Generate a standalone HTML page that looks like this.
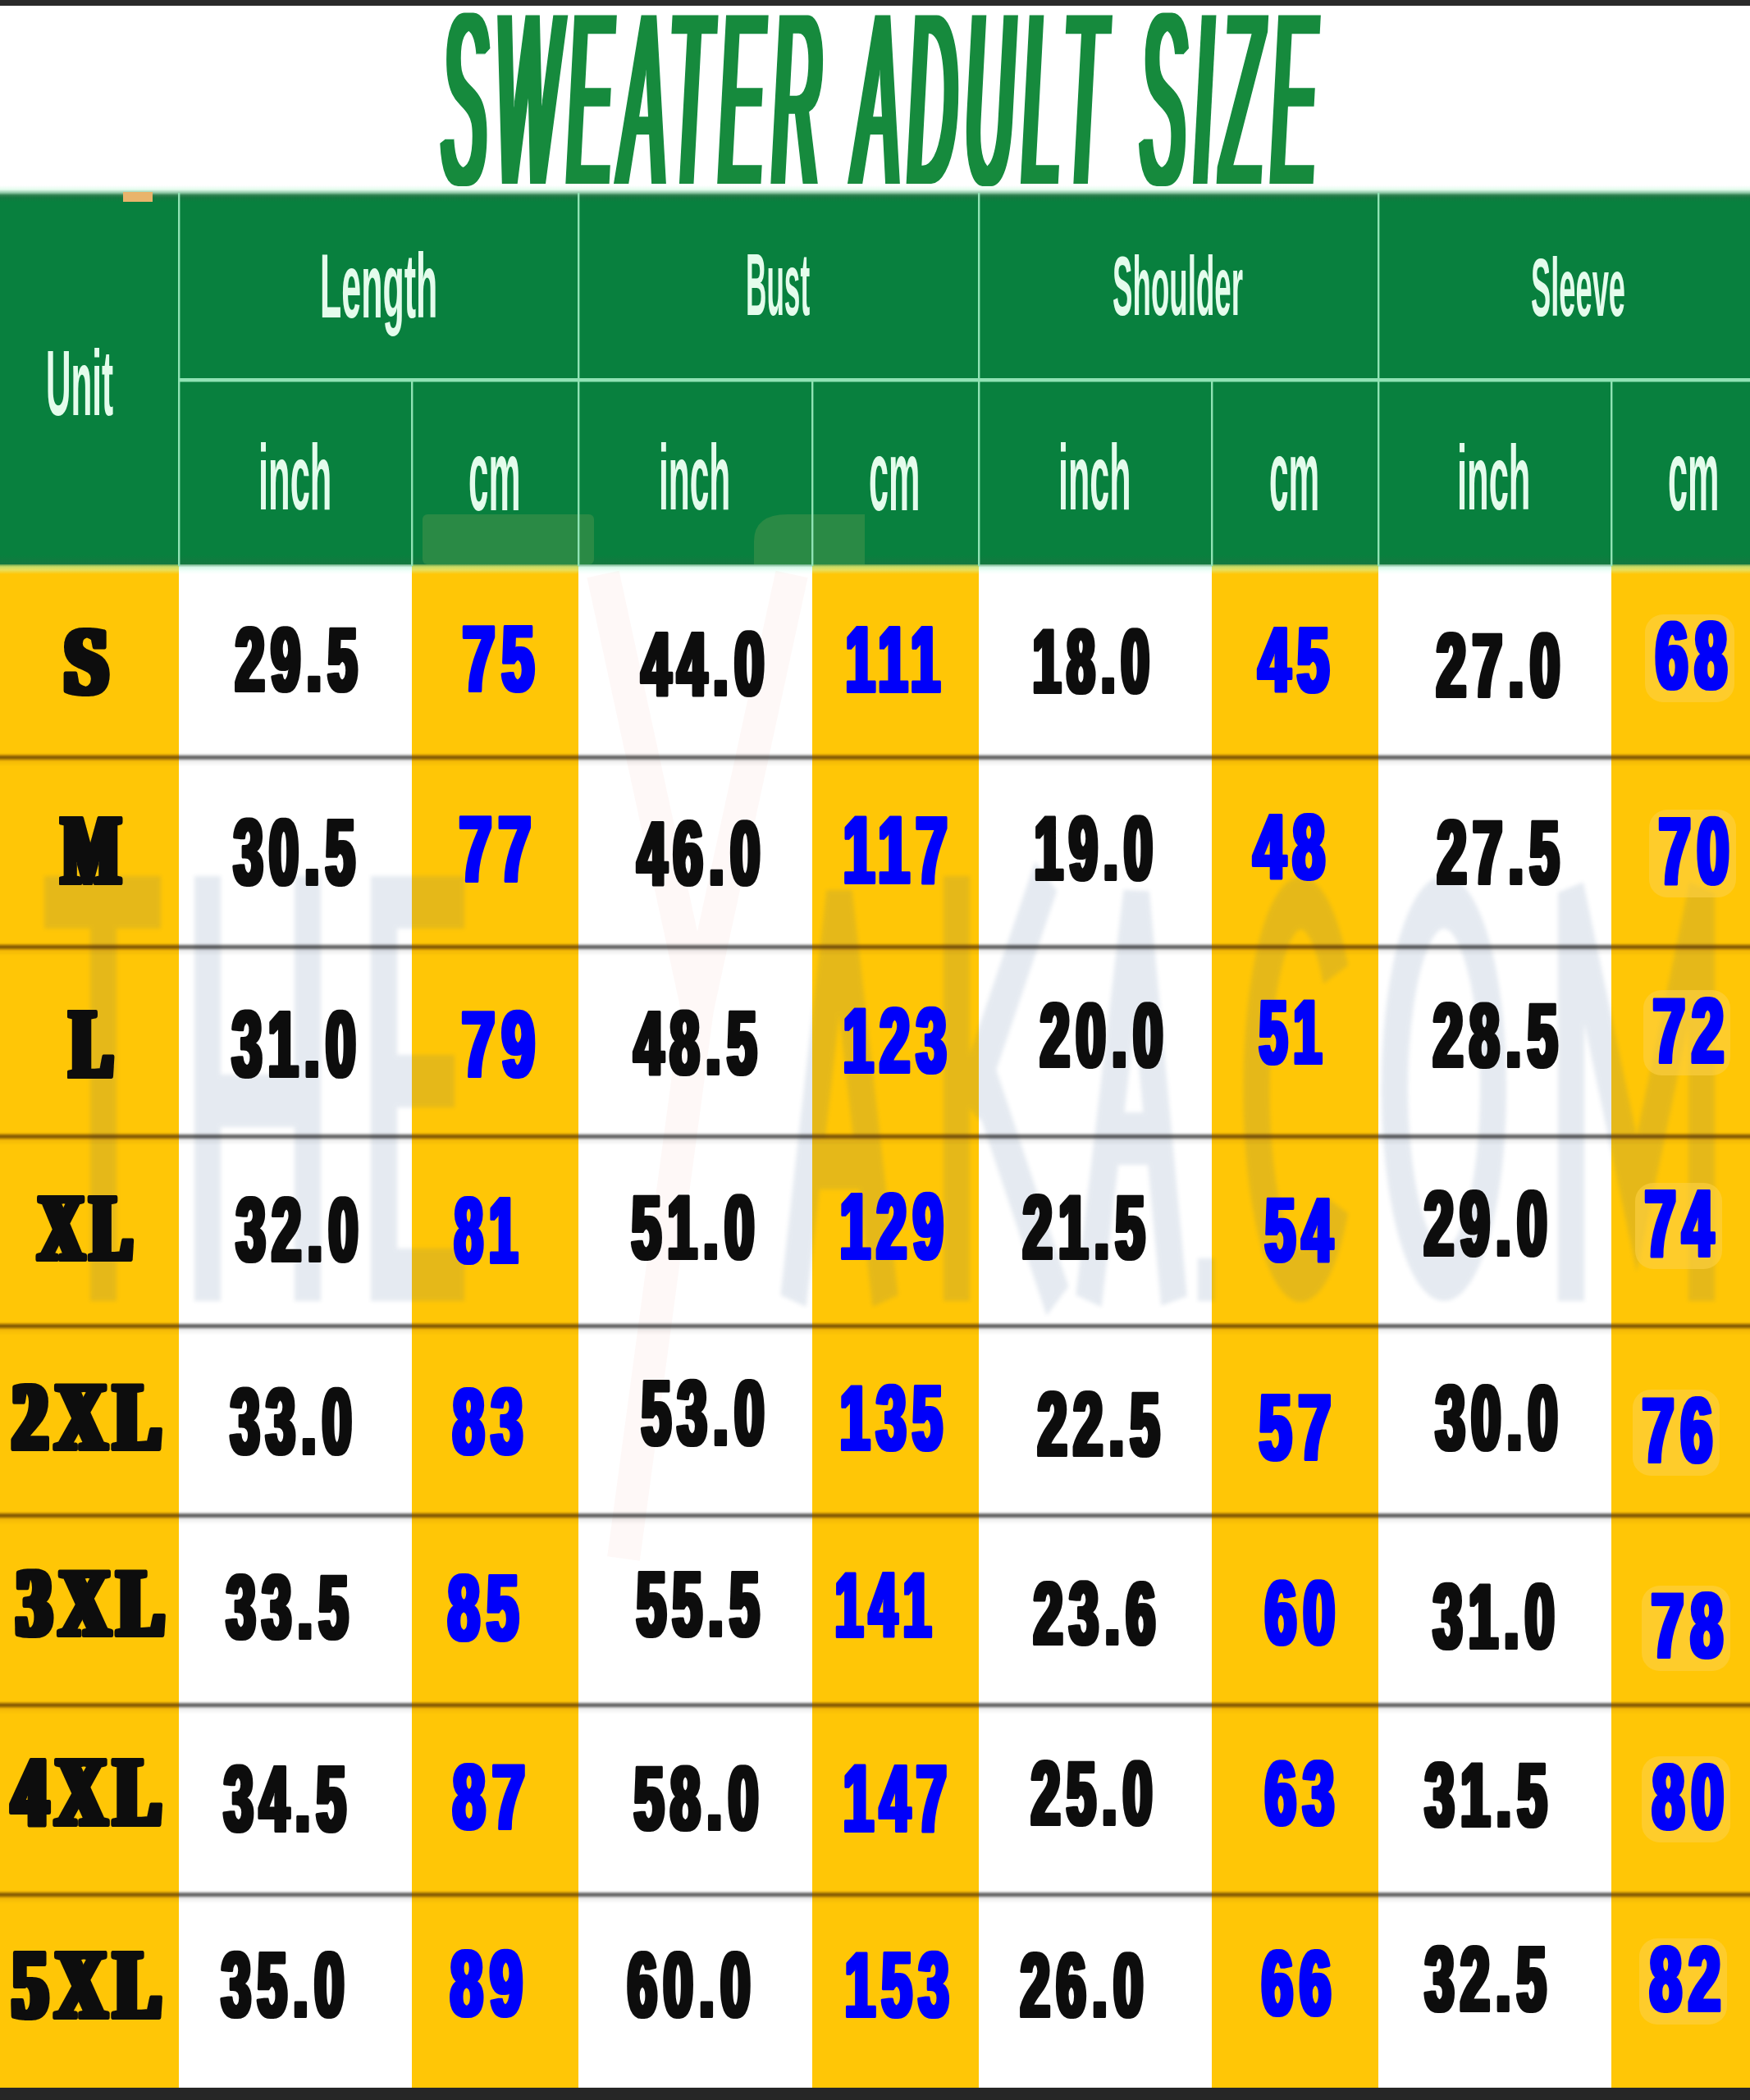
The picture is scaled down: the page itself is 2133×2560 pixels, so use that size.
<!DOCTYPE html><html><head><meta charset="utf-8"><title>Sweater Adult Size</title><style>html,body{margin:0;padding:0;background:#fff;overflow:hidden}svg{display:block}</style></head><body>
<svg width="2133" height="2560" viewBox="0 0 2133 2560">
<defs><filter id="dxt" x="-2%" y="-5%" width="104%" height="110%"><feMorphology operator="dilate" radius="5 0"/></filter><filter id="dxn" x="-5%" y="-5%" width="110%" height="110%"><feMorphology operator="dilate" radius="1.8 0"/></filter><filter id="dxs" x="-5%" y="-5%" width="110%" height="110%"><feMorphology operator="dilate" radius="3.5 0"/></filter></defs>
<defs><linearGradient id="gy" x1="0" y1="0" x2="0" y2="1"><stop offset="0" stop-color="#3f8a45"/><stop offset="0.3" stop-color="#c9dc66"/><stop offset="0.6" stop-color="#e9df5a"/><stop offset="1" stop-color="#ffc606"/></linearGradient><linearGradient id="gw" x1="0" y1="0" x2="0" y2="1"><stop offset="0" stop-color="#4f9a6a"/><stop offset="0.35" stop-color="#d8f8e8"/><stop offset="0.7" stop-color="#f2fffa"/><stop offset="1" stop-color="#ffffff"/></linearGradient><linearGradient id="gd" x1="0" y1="0" x2="0" y2="1"><stop offset="0" stop-color="#08803e"/><stop offset="0.975" stop-color="#08803e"/><stop offset="1" stop-color="#157840"/></linearGradient></defs>
<rect x="0" y="0" width="2133" height="2560" fill="#ffffff"/>
<rect x="0" y="0" width="2133" height="7" fill="#2a2a2a"/>
<rect x="0" y="689" width="218" height="1856" fill="#ffc606"/>
<rect x="0" y="687" width="218" height="13" fill="url(#gy)"/>
<rect x="218" y="689" width="284" height="1856" fill="#ffffff"/>
<rect x="218" y="687" width="284" height="13" fill="url(#gw)"/>
<rect x="502" y="689" width="203" height="1856" fill="#ffc606"/>
<rect x="502" y="687" width="203" height="13" fill="url(#gy)"/>
<rect x="705" y="689" width="285" height="1856" fill="#ffffff"/>
<rect x="705" y="687" width="285" height="13" fill="url(#gw)"/>
<rect x="990" y="689" width="203" height="1856" fill="#ffc606"/>
<rect x="990" y="687" width="203" height="13" fill="url(#gy)"/>
<rect x="1193" y="689" width="284" height="1856" fill="#ffffff"/>
<rect x="1193" y="687" width="284" height="13" fill="url(#gw)"/>
<rect x="1477" y="689" width="203" height="1856" fill="#ffc606"/>
<rect x="1477" y="687" width="203" height="13" fill="url(#gy)"/>
<rect x="1680" y="689" width="284" height="1856" fill="#ffffff"/>
<rect x="1680" y="687" width="284" height="13" fill="url(#gw)"/>
<rect x="1964" y="689" width="169" height="1856" fill="#ffc606"/>
<rect x="1964" y="687" width="169" height="13" fill="url(#gy)"/>
<rect x="0" y="235" width="2133" height="453" fill="url(#gd)"/>
<linearGradient id="gt" x1="0" y1="0" x2="0" y2="1"><stop offset="0" stop-color="#ffffff"/><stop offset="0.25" stop-color="#e4fcee"/><stop offset="0.45" stop-color="#8fc8a6"/><stop offset="0.6" stop-color="#2f8050"/><stop offset="0.75" stop-color="#147840"/><stop offset="1" stop-color="#08803e"/></linearGradient>
<rect x="0" y="226" width="2133" height="20" fill="url(#gt)"/>
<rect x="150" y="234" width="36" height="12" fill="#e9b46c"/>
<rect x="515" y="627" width="209" height="61" rx="6" fill="#2a8a45"/>
<path d="M919 688 V660 Q919 627 960 627 H1054 V688 Z" fill="#2a8a45"/>
<defs><filter id="wb" x="-5%" y="-5%" width="110%" height="110%"><feGaussianBlur stdDeviation="2.5"/></filter></defs>
<g opacity="0.13" filter="url(#wb)">
<g transform="translate(0,1068) scale(1,2)"><path d="M54 16 H196 M126 16 V259 M253 0 V259 M375 0 V259 M253 137 H375 M468 0 V259 M468 16 H566 M468 125 H554 M468 243 H566 M967 259 L1023 12 L1079 259 M990 175 H1058 M1166 0 V259 M1180 140 L1275 0 M1195 118 L1289 259 M1327 259 L1385 12 L1431 259 M1350 160 H1415 M1628 60 A54 113.5 0 1 0 1628 200 M1760 16 A60 113.5 0 1 0 1760.1 16 Z M1915 259 V10 L1995 200 L2074 10 V259" fill="none" stroke="#3c6496" stroke-width="32" stroke-linejoin="miter" stroke-miterlimit="3"/><rect x="1460" y="233" width="20" height="26" fill="#3c6496"/></g>
</g>
<g opacity="0.035"><path d="M735 700 L850 1230 L965 700 M850 1230 L760 1900" fill="none" stroke="#e8402a" stroke-width="40"/></g>
<rect x="2005" y="749" width="109" height="107" rx="22" fill="#fdd044" opacity="0.6"/>
<rect x="2010" y="987" width="106" height="107" rx="22" fill="#fdd044" opacity="0.6"/>
<rect x="2003" y="1207" width="106" height="104" rx="22" fill="#fdd044" opacity="0.6"/>
<rect x="1993" y="1442" width="106" height="105" rx="22" fill="#fdd044" opacity="0.6"/>
<rect x="1990" y="1694" width="106" height="105" rx="22" fill="#fdd044" opacity="0.6"/>
<rect x="2001" y="1933" width="108" height="104" rx="22" fill="#fdd044" opacity="0.6"/>
<rect x="2001" y="2141" width="108" height="105" rx="22" fill="#fdd044" opacity="0.6"/>
<rect x="1998" y="2363" width="107" height="105" rx="22" fill="#fdd044" opacity="0.6"/>
<text x="539.0" y="224.0" font-family="Liberation Sans" font-weight="normal" letter-spacing="40" filter="url(#dxt)" font-style="italic" font-size="298.6" textLength="1076.0" lengthAdjust="spacingAndGlyphs" fill="#128a3d">SWEATER ADULT SIZE</text>
<text x="56.0" y="506.0" font-family="Liberation Sans" font-weight="bold" font-style="normal" font-size="113.9" textLength="82.1" lengthAdjust="spacingAndGlyphs" fill="#e4fcec">Unit</text>
<text x="390.0" y="387.0" font-family="Liberation Sans" font-weight="bold" font-style="normal" font-size="111.9" textLength="143.2" lengthAdjust="spacingAndGlyphs" fill="#e4fcec">Length</text>
<text x="909.0" y="384.0" font-family="Liberation Sans" font-weight="bold" font-style="normal" font-size="107.0" textLength="78.1" lengthAdjust="spacingAndGlyphs" fill="#e4fcec">Bust</text>
<text x="1356.0" y="384.0" font-family="Liberation Sans" font-weight="bold" font-style="normal" font-size="101.5" textLength="159.0" lengthAdjust="spacingAndGlyphs" fill="#e4fcec">Shoulder</text>
<text x="1866.0" y="385.0" font-family="Liberation Sans" font-weight="bold" font-style="normal" font-size="100.1" textLength="115.0" lengthAdjust="spacingAndGlyphs" fill="#e4fcec">Sleeve</text>
<text x="79.0" y="845.0" font-family="Liberation Serif" font-weight="bold" letter-spacing="16" filter="url(#dxs)" font-style="normal" font-size="116.7" textLength="65.3" lengthAdjust="spacingAndGlyphs" fill="#0a0a0a" stroke="#0a0a0a" stroke-width="6" stroke-linejoin="round" paint-order="stroke">S</text>
<text x="287.0" y="842.0" font-family="Liberation Sans" font-weight="bold" letter-spacing="14" filter="url(#dxn)" font-style="normal" font-size="108.6" textLength="156.3" lengthAdjust="spacingAndGlyphs" fill="#0a0a0a" stroke="#0a0a0a" stroke-width="4" stroke-linejoin="round" paint-order="stroke">29.5</text>
<text x="564.0" y="842.0" font-family="Liberation Sans" font-weight="bold" letter-spacing="14" filter="url(#dxn)" font-style="normal" font-size="112.6" textLength="95.6" lengthAdjust="spacingAndGlyphs" fill="#0205fa" stroke="#0205fa" stroke-width="4" stroke-linejoin="round" paint-order="stroke">75</text>
<text x="782.0" y="847.0" font-family="Liberation Sans" font-weight="bold" letter-spacing="14" filter="url(#dxn)" font-style="normal" font-size="109.8" textLength="157.3" lengthAdjust="spacingAndGlyphs" fill="#0a0a0a" stroke="#0a0a0a" stroke-width="4" stroke-linejoin="round" paint-order="stroke">44.0</text>
<text x="1031.0" y="843.0" font-family="Liberation Sans" font-weight="bold" letter-spacing="14" filter="url(#dxn)" font-style="normal" font-size="112.8" textLength="122.4" lengthAdjust="spacingAndGlyphs" fill="#0205fa" stroke="#0205fa" stroke-width="4" stroke-linejoin="round" paint-order="stroke">111</text>
<text x="1259.0" y="844.0" font-family="Liberation Sans" font-weight="bold" letter-spacing="14" filter="url(#dxn)" font-style="normal" font-size="109.8" textLength="149.4" lengthAdjust="spacingAndGlyphs" fill="#0a0a0a" stroke="#0a0a0a" stroke-width="4" stroke-linejoin="round" paint-order="stroke">18.0</text>
<text x="1534.0" y="843.0" font-family="Liberation Sans" font-weight="bold" letter-spacing="14" filter="url(#dxn)" font-style="normal" font-size="111.3" textLength="94.4" lengthAdjust="spacingAndGlyphs" fill="#0205fa" stroke="#0205fa" stroke-width="4" stroke-linejoin="round" paint-order="stroke">45</text>
<text x="1751.0" y="849.0" font-family="Liberation Sans" font-weight="bold" letter-spacing="14" filter="url(#dxn)" font-style="normal" font-size="108.6" textLength="158.3" lengthAdjust="spacingAndGlyphs" fill="#0a0a0a" stroke="#0a0a0a" stroke-width="4" stroke-linejoin="round" paint-order="stroke">27.0</text>
<text x="2018.0" y="839.0" font-family="Liberation Sans" font-weight="bold" letter-spacing="14" filter="url(#dxn)" font-style="normal" font-size="114.1" textLength="95.5" lengthAdjust="spacingAndGlyphs" fill="#0205fa" stroke="#0205fa" stroke-width="4" stroke-linejoin="round" paint-order="stroke">68</text>
<text x="76.0" y="1076.0" font-family="Liberation Serif" font-weight="bold" letter-spacing="16" filter="url(#dxs)" font-style="normal" font-size="119.0" textLength="79.7" lengthAdjust="spacingAndGlyphs" fill="#0a0a0a" stroke="#0a0a0a" stroke-width="6" stroke-linejoin="round" paint-order="stroke">M</text>
<text x="285.0" y="1078.0" font-family="Liberation Sans" font-weight="bold" letter-spacing="14" filter="url(#dxn)" font-style="normal" font-size="113.9" textLength="155.2" lengthAdjust="spacingAndGlyphs" fill="#0a0a0a" stroke="#0a0a0a" stroke-width="4" stroke-linejoin="round" paint-order="stroke">30.5</text>
<text x="560.0" y="1074.0" font-family="Liberation Sans" font-weight="bold" letter-spacing="14" filter="url(#dxn)" font-style="normal" font-size="112.8" textLength="95.7" lengthAdjust="spacingAndGlyphs" fill="#0205fa" stroke="#0205fa" stroke-width="4" stroke-linejoin="round" paint-order="stroke">77</text>
<text x="777.0" y="1078.0" font-family="Liberation Sans" font-weight="bold" letter-spacing="14" filter="url(#dxn)" font-style="normal" font-size="109.8" textLength="157.3" lengthAdjust="spacingAndGlyphs" fill="#0a0a0a" stroke="#0a0a0a" stroke-width="4" stroke-linejoin="round" paint-order="stroke">46.0</text>
<text x="1028.0" y="1076.0" font-family="Liberation Sans" font-weight="bold" letter-spacing="14" filter="url(#dxn)" font-style="normal" font-size="115.3" textLength="134.7" lengthAdjust="spacingAndGlyphs" fill="#0205fa" stroke="#0205fa" stroke-width="4" stroke-linejoin="round" paint-order="stroke">117</text>
<text x="1261.0" y="1072.0" font-family="Liberation Sans" font-weight="bold" letter-spacing="14" filter="url(#dxn)" font-style="normal" font-size="109.8" textLength="151.4" lengthAdjust="spacingAndGlyphs" fill="#0a0a0a" stroke="#0a0a0a" stroke-width="4" stroke-linejoin="round" paint-order="stroke">19.0</text>
<text x="1528.0" y="1071.0" font-family="Liberation Sans" font-weight="bold" letter-spacing="14" filter="url(#dxn)" font-style="normal" font-size="111.4" textLength="95.4" lengthAdjust="spacingAndGlyphs" fill="#0205fa" stroke="#0205fa" stroke-width="4" stroke-linejoin="round" paint-order="stroke">48</text>
<text x="1752.0" y="1077.0" font-family="Liberation Sans" font-weight="bold" letter-spacing="14" filter="url(#dxn)" font-style="normal" font-size="108.6" textLength="156.3" lengthAdjust="spacingAndGlyphs" fill="#0a0a0a" stroke="#0a0a0a" stroke-width="4" stroke-linejoin="round" paint-order="stroke">27.5</text>
<text x="2022.0" y="1077.0" font-family="Liberation Sans" font-weight="bold" letter-spacing="14" filter="url(#dxn)" font-style="normal" font-size="115.4" textLength="93.7" lengthAdjust="spacingAndGlyphs" fill="#0205fa" stroke="#0205fa" stroke-width="4" stroke-linejoin="round" paint-order="stroke">70</text>
<text x="86.0" y="1312.0" font-family="Liberation Serif" font-weight="bold" letter-spacing="16" filter="url(#dxs)" font-style="normal" font-size="119.0" textLength="60.9" lengthAdjust="spacingAndGlyphs" fill="#0a0a0a" stroke="#0a0a0a" stroke-width="6" stroke-linejoin="round" paint-order="stroke">L</text>
<text x="283.0" y="1312.0" font-family="Liberation Sans" font-weight="bold" letter-spacing="14" filter="url(#dxn)" font-style="normal" font-size="113.9" textLength="158.3" lengthAdjust="spacingAndGlyphs" fill="#0a0a0a" stroke="#0a0a0a" stroke-width="4" stroke-linejoin="round" paint-order="stroke">31.0</text>
<text x="563.0" y="1312.0" font-family="Liberation Sans" font-weight="bold" letter-spacing="14" filter="url(#dxn)" font-style="normal" font-size="114.0" textLength="97.7" lengthAdjust="spacingAndGlyphs" fill="#0205fa" stroke="#0205fa" stroke-width="4" stroke-linejoin="round" paint-order="stroke">79</text>
<text x="773.0" y="1309.0" font-family="Liberation Sans" font-weight="bold" letter-spacing="14" filter="url(#dxn)" font-style="normal" font-size="108.5" textLength="157.2" lengthAdjust="spacingAndGlyphs" fill="#0a0a0a" stroke="#0a0a0a" stroke-width="4" stroke-linejoin="round" paint-order="stroke">48.5</text>
<text x="1028.0" y="1307.0" font-family="Liberation Sans" font-weight="bold" letter-spacing="14" filter="url(#dxn)" font-style="normal" font-size="111.2" textLength="133.5" lengthAdjust="spacingAndGlyphs" fill="#0205fa" stroke="#0205fa" stroke-width="4" stroke-linejoin="round" paint-order="stroke">123</text>
<text x="1268.0" y="1300.0" font-family="Liberation Sans" font-weight="bold" letter-spacing="14" filter="url(#dxn)" font-style="normal" font-size="109.8" textLength="157.3" lengthAdjust="spacingAndGlyphs" fill="#0a0a0a" stroke="#0a0a0a" stroke-width="4" stroke-linejoin="round" paint-order="stroke">20.0</text>
<text x="1535.0" y="1296.0" font-family="Liberation Sans" font-weight="bold" letter-spacing="14" filter="url(#dxn)" font-style="normal" font-size="109.9" textLength="83.4" lengthAdjust="spacingAndGlyphs" fill="#0205fa" stroke="#0205fa" stroke-width="4" stroke-linejoin="round" paint-order="stroke">51</text>
<text x="1747.0" y="1300.0" font-family="Liberation Sans" font-weight="bold" letter-spacing="14" filter="url(#dxn)" font-style="normal" font-size="109.8" textLength="159.3" lengthAdjust="spacingAndGlyphs" fill="#0a0a0a" stroke="#0a0a0a" stroke-width="4" stroke-linejoin="round" paint-order="stroke">28.5</text>
<text x="2015.0" y="1295.0" font-family="Liberation Sans" font-weight="bold" letter-spacing="14" filter="url(#dxn)" font-style="normal" font-size="111.4" textLength="94.7" lengthAdjust="spacingAndGlyphs" fill="#0205fa" stroke="#0205fa" stroke-width="4" stroke-linejoin="round" paint-order="stroke">72</text>
<text x="48.0" y="1535.0" font-family="Liberation Serif" font-weight="bold" letter-spacing="16" filter="url(#dxs)" font-style="normal" font-size="114.4" textLength="122.6" lengthAdjust="spacingAndGlyphs" fill="#0a0a0a" stroke="#0a0a0a" stroke-width="6" stroke-linejoin="round" paint-order="stroke">XL</text>
<text x="288.0" y="1537.0" font-family="Liberation Sans" font-weight="bold" letter-spacing="14" filter="url(#dxn)" font-style="normal" font-size="109.9" textLength="156.3" lengthAdjust="spacingAndGlyphs" fill="#0a0a0a" stroke="#0a0a0a" stroke-width="4" stroke-linejoin="round" paint-order="stroke">32.0</text>
<text x="554.0" y="1539.0" font-family="Liberation Sans" font-weight="bold" letter-spacing="14" filter="url(#dxn)" font-style="normal" font-size="112.6" textLength="84.4" lengthAdjust="spacingAndGlyphs" fill="#0205fa" stroke="#0205fa" stroke-width="4" stroke-linejoin="round" paint-order="stroke">81</text>
<text x="770.0" y="1534.0" font-family="Liberation Sans" font-weight="bold" letter-spacing="14" filter="url(#dxn)" font-style="normal" font-size="109.8" textLength="157.3" lengthAdjust="spacingAndGlyphs" fill="#0a0a0a" stroke="#0a0a0a" stroke-width="4" stroke-linejoin="round" paint-order="stroke">51.0</text>
<text x="1024.0" y="1534.0" font-family="Liberation Sans" font-weight="bold" letter-spacing="14" filter="url(#dxn)" font-style="normal" font-size="113.9" textLength="133.5" lengthAdjust="spacingAndGlyphs" fill="#0205fa" stroke="#0205fa" stroke-width="4" stroke-linejoin="round" paint-order="stroke">129</text>
<text x="1247.0" y="1534.0" font-family="Liberation Sans" font-weight="bold" letter-spacing="14" filter="url(#dxn)" font-style="normal" font-size="109.8" textLength="156.3" lengthAdjust="spacingAndGlyphs" fill="#0a0a0a" stroke="#0a0a0a" stroke-width="4" stroke-linejoin="round" paint-order="stroke">21.5</text>
<text x="1542.0" y="1537.0" font-family="Liberation Sans" font-weight="bold" letter-spacing="14" filter="url(#dxn)" font-style="normal" font-size="109.9" textLength="90.3" lengthAdjust="spacingAndGlyphs" fill="#0205fa" stroke="#0205fa" stroke-width="4" stroke-linejoin="round" paint-order="stroke">54</text>
<text x="1736.0" y="1530.0" font-family="Liberation Sans" font-weight="bold" letter-spacing="14" filter="url(#dxn)" font-style="normal" font-size="111.3" textLength="157.3" lengthAdjust="spacingAndGlyphs" fill="#0a0a0a" stroke="#0a0a0a" stroke-width="4" stroke-linejoin="round" paint-order="stroke">29.0</text>
<text x="2005.0" y="1531.0" font-family="Liberation Sans" font-weight="bold" letter-spacing="14" filter="url(#dxn)" font-style="normal" font-size="115.3" textLength="91.3" lengthAdjust="spacingAndGlyphs" fill="#0205fa" stroke="#0205fa" stroke-width="4" stroke-linejoin="round" paint-order="stroke">74</text>
<text x="16.0" y="1766.0" font-family="Liberation Serif" font-weight="bold" letter-spacing="16" filter="url(#dxs)" font-style="normal" font-size="116.4" textLength="190.6" lengthAdjust="spacingAndGlyphs" fill="#0a0a0a" stroke="#0a0a0a" stroke-width="6" stroke-linejoin="round" paint-order="stroke">2XL</text>
<text x="281.0" y="1772.0" font-family="Liberation Sans" font-weight="bold" letter-spacing="14" filter="url(#dxn)" font-style="normal" font-size="113.9" textLength="155.3" lengthAdjust="spacingAndGlyphs" fill="#0a0a0a" stroke="#0a0a0a" stroke-width="4" stroke-linejoin="round" paint-order="stroke">33.0</text>
<text x="552.0" y="1772.0" font-family="Liberation Sans" font-weight="bold" letter-spacing="14" filter="url(#dxn)" font-style="normal" font-size="112.6" textLength="93.5" lengthAdjust="spacingAndGlyphs" fill="#0205fa" stroke="#0205fa" stroke-width="4" stroke-linejoin="round" paint-order="stroke">83</text>
<text x="782.0" y="1761.0" font-family="Liberation Sans" font-weight="bold" letter-spacing="14" filter="url(#dxn)" font-style="normal" font-size="111.2" textLength="157.3" lengthAdjust="spacingAndGlyphs" fill="#0a0a0a" stroke="#0a0a0a" stroke-width="4" stroke-linejoin="round" paint-order="stroke">53.0</text>
<text x="1024.0" y="1767.0" font-family="Liberation Sans" font-weight="bold" letter-spacing="14" filter="url(#dxn)" font-style="normal" font-size="111.2" textLength="132.5" lengthAdjust="spacingAndGlyphs" fill="#0205fa" stroke="#0205fa" stroke-width="4" stroke-linejoin="round" paint-order="stroke">135</text>
<text x="1265.0" y="1774.0" font-family="Liberation Sans" font-weight="bold" letter-spacing="14" filter="url(#dxn)" font-style="normal" font-size="108.6" textLength="156.3" lengthAdjust="spacingAndGlyphs" fill="#0a0a0a" stroke="#0a0a0a" stroke-width="4" stroke-linejoin="round" paint-order="stroke">22.5</text>
<text x="1535.0" y="1779.0" font-family="Liberation Sans" font-weight="bold" letter-spacing="14" filter="url(#dxn)" font-style="normal" font-size="112.6" textLength="95.6" lengthAdjust="spacingAndGlyphs" fill="#0205fa" stroke="#0205fa" stroke-width="4" stroke-linejoin="round" paint-order="stroke">57</text>
<text x="1750.0" y="1767.0" font-family="Liberation Sans" font-weight="bold" letter-spacing="14" filter="url(#dxn)" font-style="normal" font-size="111.2" textLength="156.3" lengthAdjust="spacingAndGlyphs" fill="#0a0a0a" stroke="#0a0a0a" stroke-width="4" stroke-linejoin="round" paint-order="stroke">30.0</text>
<text x="2002.0" y="1782.0" font-family="Liberation Sans" font-weight="bold" letter-spacing="14" filter="url(#dxn)" font-style="normal" font-size="111.3" textLength="93.5" lengthAdjust="spacingAndGlyphs" fill="#0205fa" stroke="#0205fa" stroke-width="4" stroke-linejoin="round" paint-order="stroke">76</text>
<text x="21.0" y="1993.0" font-family="Liberation Serif" font-weight="bold" letter-spacing="16" filter="url(#dxs)" font-style="normal" font-size="116.4" textLength="189.6" lengthAdjust="spacingAndGlyphs" fill="#0a0a0a" stroke="#0a0a0a" stroke-width="6" stroke-linejoin="round" paint-order="stroke">3XL</text>
<text x="276.0" y="1997.0" font-family="Liberation Sans" font-weight="bold" letter-spacing="14" filter="url(#dxn)" font-style="normal" font-size="109.9" textLength="156.3" lengthAdjust="spacingAndGlyphs" fill="#0a0a0a" stroke="#0a0a0a" stroke-width="4" stroke-linejoin="round" paint-order="stroke">33.5</text>
<text x="546.0" y="1999.0" font-family="Liberation Sans" font-weight="bold" letter-spacing="14" filter="url(#dxn)" font-style="normal" font-size="112.6" textLength="94.4" lengthAdjust="spacingAndGlyphs" fill="#0205fa" stroke="#0205fa" stroke-width="4" stroke-linejoin="round" paint-order="stroke">85</text>
<text x="776.0" y="1994.0" font-family="Liberation Sans" font-weight="bold" letter-spacing="14" filter="url(#dxn)" font-style="normal" font-size="111.3" textLength="157.3" lengthAdjust="spacingAndGlyphs" fill="#0a0a0a" stroke="#0a0a0a" stroke-width="4" stroke-linejoin="round" paint-order="stroke">55.5</text>
<text x="1018.0" y="1995.0" font-family="Liberation Sans" font-weight="bold" letter-spacing="14" filter="url(#dxn)" font-style="normal" font-size="111.3" textLength="124.4" lengthAdjust="spacingAndGlyphs" fill="#0205fa" stroke="#0205fa" stroke-width="4" stroke-linejoin="round" paint-order="stroke">141</text>
<text x="1260.0" y="2004.0" font-family="Liberation Sans" font-weight="bold" letter-spacing="14" filter="url(#dxn)" font-style="normal" font-size="107.2" textLength="156.2" lengthAdjust="spacingAndGlyphs" fill="#0a0a0a" stroke="#0a0a0a" stroke-width="4" stroke-linejoin="round" paint-order="stroke">23.6</text>
<text x="1542.0" y="2004.0" font-family="Liberation Sans" font-weight="bold" letter-spacing="14" filter="url(#dxn)" font-style="normal" font-size="108.6" textLength="93.7" lengthAdjust="spacingAndGlyphs" fill="#0205fa" stroke="#0205fa" stroke-width="4" stroke-linejoin="round" paint-order="stroke">60</text>
<text x="1747.0" y="2009.0" font-family="Liberation Sans" font-weight="bold" letter-spacing="14" filter="url(#dxn)" font-style="normal" font-size="111.2" textLength="155.3" lengthAdjust="spacingAndGlyphs" fill="#0a0a0a" stroke="#0a0a0a" stroke-width="4" stroke-linejoin="round" paint-order="stroke">31.0</text>
<text x="2013.0" y="2020.0" font-family="Liberation Sans" font-weight="bold" letter-spacing="14" filter="url(#dxn)" font-style="normal" font-size="111.3" textLength="95.6" lengthAdjust="spacingAndGlyphs" fill="#0205fa" stroke="#0205fa" stroke-width="4" stroke-linejoin="round" paint-order="stroke">78</text>
<text x="16.0" y="2224.0" font-family="Liberation Serif" font-weight="bold" letter-spacing="16" filter="url(#dxs)" font-style="normal" font-size="119.2" textLength="190.5" lengthAdjust="spacingAndGlyphs" fill="#0a0a0a" stroke="#0a0a0a" stroke-width="6" stroke-linejoin="round" paint-order="stroke">4XL</text>
<text x="273.0" y="2232.0" font-family="Liberation Sans" font-weight="bold" letter-spacing="14" filter="url(#dxn)" font-style="normal" font-size="113.9" textLength="156.2" lengthAdjust="spacingAndGlyphs" fill="#0a0a0a" stroke="#0a0a0a" stroke-width="4" stroke-linejoin="round" paint-order="stroke">34.5</text>
<text x="552.0" y="2229.0" font-family="Liberation Sans" font-weight="bold" letter-spacing="14" filter="url(#dxn)" font-style="normal" font-size="111.4" textLength="96.6" lengthAdjust="spacingAndGlyphs" fill="#0205fa" stroke="#0205fa" stroke-width="4" stroke-linejoin="round" paint-order="stroke">87</text>
<text x="773.0" y="2230.0" font-family="Liberation Sans" font-weight="bold" letter-spacing="14" filter="url(#dxn)" font-style="normal" font-size="109.8" textLength="159.3" lengthAdjust="spacingAndGlyphs" fill="#0a0a0a" stroke="#0a0a0a" stroke-width="4" stroke-linejoin="round" paint-order="stroke">58.0</text>
<text x="1028.0" y="2232.0" font-family="Liberation Sans" font-weight="bold" letter-spacing="14" filter="url(#dxn)" font-style="normal" font-size="115.3" textLength="133.6" lengthAdjust="spacingAndGlyphs" fill="#0205fa" stroke="#0205fa" stroke-width="4" stroke-linejoin="round" paint-order="stroke">147</text>
<text x="1257.0" y="2224.0" font-family="Liberation Sans" font-weight="bold" letter-spacing="14" filter="url(#dxn)" font-style="normal" font-size="109.8" textLength="155.3" lengthAdjust="spacingAndGlyphs" fill="#0a0a0a" stroke="#0a0a0a" stroke-width="4" stroke-linejoin="round" paint-order="stroke">25.0</text>
<text x="1542.0" y="2224.0" font-family="Liberation Sans" font-weight="bold" letter-spacing="14" filter="url(#dxn)" font-style="normal" font-size="109.9" textLength="92.6" lengthAdjust="spacingAndGlyphs" fill="#0205fa" stroke="#0205fa" stroke-width="4" stroke-linejoin="round" paint-order="stroke">63</text>
<text x="1737.0" y="2226.0" font-family="Liberation Sans" font-weight="bold" letter-spacing="14" filter="url(#dxn)" font-style="normal" font-size="109.9" textLength="156.3" lengthAdjust="spacingAndGlyphs" fill="#0a0a0a" stroke="#0a0a0a" stroke-width="4" stroke-linejoin="round" paint-order="stroke">31.5</text>
<text x="2014.0" y="2229.0" font-family="Liberation Sans" font-weight="bold" letter-spacing="14" filter="url(#dxn)" font-style="normal" font-size="111.3" textLength="95.6" lengthAdjust="spacingAndGlyphs" fill="#0205fa" stroke="#0205fa" stroke-width="4" stroke-linejoin="round" paint-order="stroke">80</text>
<text x="16.0" y="2459.0" font-family="Liberation Serif" font-weight="bold" letter-spacing="16" filter="url(#dxs)" font-style="normal" font-size="117.8" textLength="190.6" lengthAdjust="spacingAndGlyphs" fill="#0a0a0a" stroke="#0a0a0a" stroke-width="6" stroke-linejoin="round" paint-order="stroke">5XL</text>
<text x="270.0" y="2458.0" font-family="Liberation Sans" font-weight="bold" letter-spacing="14" filter="url(#dxn)" font-style="normal" font-size="111.2" textLength="157.3" lengthAdjust="spacingAndGlyphs" fill="#0a0a0a" stroke="#0a0a0a" stroke-width="4" stroke-linejoin="round" paint-order="stroke">35.0</text>
<text x="549.0" y="2457.0" font-family="Liberation Sans" font-weight="bold" letter-spacing="14" filter="url(#dxn)" font-style="normal" font-size="112.6" textLength="96.6" lengthAdjust="spacingAndGlyphs" fill="#0205fa" stroke="#0205fa" stroke-width="4" stroke-linejoin="round" paint-order="stroke">89</text>
<text x="765.0" y="2458.0" font-family="Liberation Sans" font-weight="bold" letter-spacing="14" filter="url(#dxn)" font-style="normal" font-size="111.3" textLength="157.3" lengthAdjust="spacingAndGlyphs" fill="#0a0a0a" stroke="#0a0a0a" stroke-width="4" stroke-linejoin="round" paint-order="stroke">60.0</text>
<text x="1030.0" y="2458.0" font-family="Liberation Sans" font-weight="bold" letter-spacing="14" filter="url(#dxn)" font-style="normal" font-size="111.2" textLength="134.5" lengthAdjust="spacingAndGlyphs" fill="#0205fa" stroke="#0205fa" stroke-width="4" stroke-linejoin="round" paint-order="stroke">153</text>
<text x="1244.0" y="2458.0" font-family="Liberation Sans" font-weight="bold" letter-spacing="14" filter="url(#dxn)" font-style="normal" font-size="109.8" textLength="157.3" lengthAdjust="spacingAndGlyphs" fill="#0a0a0a" stroke="#0a0a0a" stroke-width="4" stroke-linejoin="round" paint-order="stroke">26.0</text>
<text x="1538.0" y="2456.0" font-family="Liberation Sans" font-weight="bold" letter-spacing="14" filter="url(#dxn)" font-style="normal" font-size="111.3" textLength="92.6" lengthAdjust="spacingAndGlyphs" fill="#0205fa" stroke="#0205fa" stroke-width="4" stroke-linejoin="round" paint-order="stroke">66</text>
<text x="1737.0" y="2451.0" font-family="Liberation Sans" font-weight="bold" letter-spacing="14" filter="url(#dxn)" font-style="normal" font-size="111.2" textLength="155.2" lengthAdjust="spacingAndGlyphs" fill="#0a0a0a" stroke="#0a0a0a" stroke-width="4" stroke-linejoin="round" paint-order="stroke">32.5</text>
<text x="2011.0" y="2451.0" font-family="Liberation Sans" font-weight="bold" letter-spacing="14" filter="url(#dxn)" font-style="normal" font-size="111.4" textLength="94.6" lengthAdjust="spacingAndGlyphs" fill="#0205fa" stroke="#0205fa" stroke-width="4" stroke-linejoin="round" paint-order="stroke">82</text>
<text x="315.0" y="621.0" font-family="Liberation Sans" font-weight="bold" font-style="normal" font-size="113.9" textLength="89.4" lengthAdjust="spacingAndGlyphs" fill="#e4fcec">inch</text>
<text x="571.0" y="622.0" font-family="Liberation Sans" font-weight="bold" font-style="normal" font-size="122.2" textLength="63.4" lengthAdjust="spacingAndGlyphs" fill="#e4fcec">cm</text>
<text x="803.0" y="621.0" font-family="Liberation Sans" font-weight="bold" font-style="normal" font-size="113.9" textLength="87.3" lengthAdjust="spacingAndGlyphs" fill="#e4fcec">inch</text>
<text x="1059.0" y="622.0" font-family="Liberation Sans" font-weight="bold" font-style="normal" font-size="122.2" textLength="62.4" lengthAdjust="spacingAndGlyphs" fill="#e4fcec">cm</text>
<text x="1290.0" y="621.0" font-family="Liberation Sans" font-weight="bold" font-style="normal" font-size="113.9" textLength="88.4" lengthAdjust="spacingAndGlyphs" fill="#e4fcec">inch</text>
<text x="1547.0" y="622.0" font-family="Liberation Sans" font-weight="bold" font-style="normal" font-size="122.2" textLength="61.3" lengthAdjust="spacingAndGlyphs" fill="#e4fcec">cm</text>
<text x="1776.0" y="621.0" font-family="Liberation Sans" font-weight="bold" font-style="normal" font-size="111.2" textLength="89.4" lengthAdjust="spacingAndGlyphs" fill="#e4fcec">inch</text>
<text x="2033.0" y="622.0" font-family="Liberation Sans" font-weight="bold" font-style="normal" font-size="122.2" textLength="62.4" lengthAdjust="spacingAndGlyphs" fill="#e4fcec">cm</text>
<rect x="217" y="235" width="2.4" height="455" fill="#90e2b4"/>
<rect x="704" y="235" width="2.4" height="455" fill="#90e2b4"/>
<rect x="1192" y="235" width="2.4" height="455" fill="#90e2b4"/>
<rect x="1679" y="235" width="2.4" height="455" fill="#90e2b4"/>
<rect x="501" y="463" width="2.4" height="227" fill="#90e2b4"/>
<rect x="989" y="463" width="2.4" height="227" fill="#90e2b4"/>
<rect x="1476" y="463" width="2.4" height="227" fill="#90e2b4"/>
<rect x="1963" y="463" width="2.4" height="227" fill="#90e2b4"/>
<rect x="218" y="461" width="1915" height="4.5" fill="#90e2b4"/>
<defs><filter id="lb" x="-1%" y="-200%" width="102%" height="500%"><feGaussianBlur stdDeviation="0.3 1.4"/></filter></defs>
<g filter="url(#lb)">
<rect x="0" y="920.8" width="218" height="5" fill="#361100" fill-opacity="0.63"/>
<rect x="0" y="925.8" width="218" height="6" fill="#361100" fill-opacity="0.05"/>
<rect x="218" y="920.8" width="284" height="5" fill="#000000" fill-opacity="0.63"/>
<rect x="218" y="925.8" width="284" height="6" fill="#000000" fill-opacity="0.05"/>
<rect x="502" y="920.8" width="203" height="5" fill="#361100" fill-opacity="0.63"/>
<rect x="502" y="925.8" width="203" height="6" fill="#361100" fill-opacity="0.05"/>
<rect x="705" y="920.8" width="285" height="5" fill="#000000" fill-opacity="0.63"/>
<rect x="705" y="925.8" width="285" height="6" fill="#000000" fill-opacity="0.05"/>
<rect x="990" y="920.8" width="203" height="5" fill="#361100" fill-opacity="0.63"/>
<rect x="990" y="925.8" width="203" height="6" fill="#361100" fill-opacity="0.05"/>
<rect x="1193" y="920.8" width="284" height="5" fill="#000000" fill-opacity="0.63"/>
<rect x="1193" y="925.8" width="284" height="6" fill="#000000" fill-opacity="0.05"/>
<rect x="1477" y="920.8" width="203" height="5" fill="#361100" fill-opacity="0.63"/>
<rect x="1477" y="925.8" width="203" height="6" fill="#361100" fill-opacity="0.05"/>
<rect x="1680" y="920.8" width="284" height="5" fill="#000000" fill-opacity="0.63"/>
<rect x="1680" y="925.8" width="284" height="6" fill="#000000" fill-opacity="0.05"/>
<rect x="1964" y="920.8" width="169" height="5" fill="#361100" fill-opacity="0.63"/>
<rect x="1964" y="925.8" width="169" height="6" fill="#361100" fill-opacity="0.05"/>
<rect x="0" y="1151.9" width="218" height="5" fill="#361100" fill-opacity="0.63"/>
<rect x="0" y="1156.9" width="218" height="6" fill="#361100" fill-opacity="0.05"/>
<rect x="218" y="1151.9" width="284" height="5" fill="#000000" fill-opacity="0.63"/>
<rect x="218" y="1156.9" width="284" height="6" fill="#000000" fill-opacity="0.05"/>
<rect x="502" y="1151.9" width="203" height="5" fill="#361100" fill-opacity="0.63"/>
<rect x="502" y="1156.9" width="203" height="6" fill="#361100" fill-opacity="0.05"/>
<rect x="705" y="1151.9" width="285" height="5" fill="#000000" fill-opacity="0.63"/>
<rect x="705" y="1156.9" width="285" height="6" fill="#000000" fill-opacity="0.05"/>
<rect x="990" y="1151.9" width="203" height="5" fill="#361100" fill-opacity="0.63"/>
<rect x="990" y="1156.9" width="203" height="6" fill="#361100" fill-opacity="0.05"/>
<rect x="1193" y="1151.9" width="284" height="5" fill="#000000" fill-opacity="0.63"/>
<rect x="1193" y="1156.9" width="284" height="6" fill="#000000" fill-opacity="0.05"/>
<rect x="1477" y="1151.9" width="203" height="5" fill="#361100" fill-opacity="0.63"/>
<rect x="1477" y="1156.9" width="203" height="6" fill="#361100" fill-opacity="0.05"/>
<rect x="1680" y="1151.9" width="284" height="5" fill="#000000" fill-opacity="0.63"/>
<rect x="1680" y="1156.9" width="284" height="6" fill="#000000" fill-opacity="0.05"/>
<rect x="1964" y="1151.9" width="169" height="5" fill="#361100" fill-opacity="0.63"/>
<rect x="1964" y="1156.9" width="169" height="6" fill="#361100" fill-opacity="0.05"/>
<rect x="0" y="1382.9" width="218" height="5" fill="#361100" fill-opacity="0.63"/>
<rect x="0" y="1387.9" width="218" height="6" fill="#361100" fill-opacity="0.05"/>
<rect x="218" y="1382.9" width="284" height="5" fill="#000000" fill-opacity="0.63"/>
<rect x="218" y="1387.9" width="284" height="6" fill="#000000" fill-opacity="0.05"/>
<rect x="502" y="1382.9" width="203" height="5" fill="#361100" fill-opacity="0.63"/>
<rect x="502" y="1387.9" width="203" height="6" fill="#361100" fill-opacity="0.05"/>
<rect x="705" y="1382.9" width="285" height="5" fill="#000000" fill-opacity="0.63"/>
<rect x="705" y="1387.9" width="285" height="6" fill="#000000" fill-opacity="0.05"/>
<rect x="990" y="1382.9" width="203" height="5" fill="#361100" fill-opacity="0.63"/>
<rect x="990" y="1387.9" width="203" height="6" fill="#361100" fill-opacity="0.05"/>
<rect x="1193" y="1382.9" width="284" height="5" fill="#000000" fill-opacity="0.63"/>
<rect x="1193" y="1387.9" width="284" height="6" fill="#000000" fill-opacity="0.05"/>
<rect x="1477" y="1382.9" width="203" height="5" fill="#361100" fill-opacity="0.63"/>
<rect x="1477" y="1387.9" width="203" height="6" fill="#361100" fill-opacity="0.05"/>
<rect x="1680" y="1382.9" width="284" height="5" fill="#000000" fill-opacity="0.63"/>
<rect x="1680" y="1387.9" width="284" height="6" fill="#000000" fill-opacity="0.05"/>
<rect x="1964" y="1382.9" width="169" height="5" fill="#361100" fill-opacity="0.63"/>
<rect x="1964" y="1387.9" width="169" height="6" fill="#361100" fill-opacity="0.05"/>
<rect x="0" y="1614.0" width="218" height="5" fill="#361100" fill-opacity="0.63"/>
<rect x="0" y="1619.0" width="218" height="6" fill="#361100" fill-opacity="0.05"/>
<rect x="218" y="1614.0" width="284" height="5" fill="#000000" fill-opacity="0.63"/>
<rect x="218" y="1619.0" width="284" height="6" fill="#000000" fill-opacity="0.05"/>
<rect x="502" y="1614.0" width="203" height="5" fill="#361100" fill-opacity="0.63"/>
<rect x="502" y="1619.0" width="203" height="6" fill="#361100" fill-opacity="0.05"/>
<rect x="705" y="1614.0" width="285" height="5" fill="#000000" fill-opacity="0.63"/>
<rect x="705" y="1619.0" width="285" height="6" fill="#000000" fill-opacity="0.05"/>
<rect x="990" y="1614.0" width="203" height="5" fill="#361100" fill-opacity="0.63"/>
<rect x="990" y="1619.0" width="203" height="6" fill="#361100" fill-opacity="0.05"/>
<rect x="1193" y="1614.0" width="284" height="5" fill="#000000" fill-opacity="0.63"/>
<rect x="1193" y="1619.0" width="284" height="6" fill="#000000" fill-opacity="0.05"/>
<rect x="1477" y="1614.0" width="203" height="5" fill="#361100" fill-opacity="0.63"/>
<rect x="1477" y="1619.0" width="203" height="6" fill="#361100" fill-opacity="0.05"/>
<rect x="1680" y="1614.0" width="284" height="5" fill="#000000" fill-opacity="0.63"/>
<rect x="1680" y="1619.0" width="284" height="6" fill="#000000" fill-opacity="0.05"/>
<rect x="1964" y="1614.0" width="169" height="5" fill="#361100" fill-opacity="0.63"/>
<rect x="1964" y="1619.0" width="169" height="6" fill="#361100" fill-opacity="0.05"/>
<rect x="0" y="1845.0" width="218" height="5" fill="#361100" fill-opacity="0.63"/>
<rect x="0" y="1850.0" width="218" height="6" fill="#361100" fill-opacity="0.05"/>
<rect x="218" y="1845.0" width="284" height="5" fill="#000000" fill-opacity="0.63"/>
<rect x="218" y="1850.0" width="284" height="6" fill="#000000" fill-opacity="0.05"/>
<rect x="502" y="1845.0" width="203" height="5" fill="#361100" fill-opacity="0.63"/>
<rect x="502" y="1850.0" width="203" height="6" fill="#361100" fill-opacity="0.05"/>
<rect x="705" y="1845.0" width="285" height="5" fill="#000000" fill-opacity="0.63"/>
<rect x="705" y="1850.0" width="285" height="6" fill="#000000" fill-opacity="0.05"/>
<rect x="990" y="1845.0" width="203" height="5" fill="#361100" fill-opacity="0.63"/>
<rect x="990" y="1850.0" width="203" height="6" fill="#361100" fill-opacity="0.05"/>
<rect x="1193" y="1845.0" width="284" height="5" fill="#000000" fill-opacity="0.63"/>
<rect x="1193" y="1850.0" width="284" height="6" fill="#000000" fill-opacity="0.05"/>
<rect x="1477" y="1845.0" width="203" height="5" fill="#361100" fill-opacity="0.63"/>
<rect x="1477" y="1850.0" width="203" height="6" fill="#361100" fill-opacity="0.05"/>
<rect x="1680" y="1845.0" width="284" height="5" fill="#000000" fill-opacity="0.63"/>
<rect x="1680" y="1850.0" width="284" height="6" fill="#000000" fill-opacity="0.05"/>
<rect x="1964" y="1845.0" width="169" height="5" fill="#361100" fill-opacity="0.63"/>
<rect x="1964" y="1850.0" width="169" height="6" fill="#361100" fill-opacity="0.05"/>
<rect x="0" y="2076.1" width="218" height="5" fill="#361100" fill-opacity="0.63"/>
<rect x="0" y="2081.1" width="218" height="6" fill="#361100" fill-opacity="0.05"/>
<rect x="218" y="2076.1" width="284" height="5" fill="#000000" fill-opacity="0.63"/>
<rect x="218" y="2081.1" width="284" height="6" fill="#000000" fill-opacity="0.05"/>
<rect x="502" y="2076.1" width="203" height="5" fill="#361100" fill-opacity="0.63"/>
<rect x="502" y="2081.1" width="203" height="6" fill="#361100" fill-opacity="0.05"/>
<rect x="705" y="2076.1" width="285" height="5" fill="#000000" fill-opacity="0.63"/>
<rect x="705" y="2081.1" width="285" height="6" fill="#000000" fill-opacity="0.05"/>
<rect x="990" y="2076.1" width="203" height="5" fill="#361100" fill-opacity="0.63"/>
<rect x="990" y="2081.1" width="203" height="6" fill="#361100" fill-opacity="0.05"/>
<rect x="1193" y="2076.1" width="284" height="5" fill="#000000" fill-opacity="0.63"/>
<rect x="1193" y="2081.1" width="284" height="6" fill="#000000" fill-opacity="0.05"/>
<rect x="1477" y="2076.1" width="203" height="5" fill="#361100" fill-opacity="0.63"/>
<rect x="1477" y="2081.1" width="203" height="6" fill="#361100" fill-opacity="0.05"/>
<rect x="1680" y="2076.1" width="284" height="5" fill="#000000" fill-opacity="0.63"/>
<rect x="1680" y="2081.1" width="284" height="6" fill="#000000" fill-opacity="0.05"/>
<rect x="1964" y="2076.1" width="169" height="5" fill="#361100" fill-opacity="0.63"/>
<rect x="1964" y="2081.1" width="169" height="6" fill="#361100" fill-opacity="0.05"/>
<rect x="0" y="2307.2" width="218" height="5" fill="#361100" fill-opacity="0.63"/>
<rect x="0" y="2312.2" width="218" height="6" fill="#361100" fill-opacity="0.05"/>
<rect x="218" y="2307.2" width="284" height="5" fill="#000000" fill-opacity="0.63"/>
<rect x="218" y="2312.2" width="284" height="6" fill="#000000" fill-opacity="0.05"/>
<rect x="502" y="2307.2" width="203" height="5" fill="#361100" fill-opacity="0.63"/>
<rect x="502" y="2312.2" width="203" height="6" fill="#361100" fill-opacity="0.05"/>
<rect x="705" y="2307.2" width="285" height="5" fill="#000000" fill-opacity="0.63"/>
<rect x="705" y="2312.2" width="285" height="6" fill="#000000" fill-opacity="0.05"/>
<rect x="990" y="2307.2" width="203" height="5" fill="#361100" fill-opacity="0.63"/>
<rect x="990" y="2312.2" width="203" height="6" fill="#361100" fill-opacity="0.05"/>
<rect x="1193" y="2307.2" width="284" height="5" fill="#000000" fill-opacity="0.63"/>
<rect x="1193" y="2312.2" width="284" height="6" fill="#000000" fill-opacity="0.05"/>
<rect x="1477" y="2307.2" width="203" height="5" fill="#361100" fill-opacity="0.63"/>
<rect x="1477" y="2312.2" width="203" height="6" fill="#361100" fill-opacity="0.05"/>
<rect x="1680" y="2307.2" width="284" height="5" fill="#000000" fill-opacity="0.63"/>
<rect x="1680" y="2312.2" width="284" height="6" fill="#000000" fill-opacity="0.05"/>
<rect x="1964" y="2307.2" width="169" height="5" fill="#361100" fill-opacity="0.63"/>
<rect x="1964" y="2312.2" width="169" height="6" fill="#361100" fill-opacity="0.05"/>
</g>
<rect x="0" y="2545" width="2133" height="15" fill="#262626"/>
</svg></body></html>
